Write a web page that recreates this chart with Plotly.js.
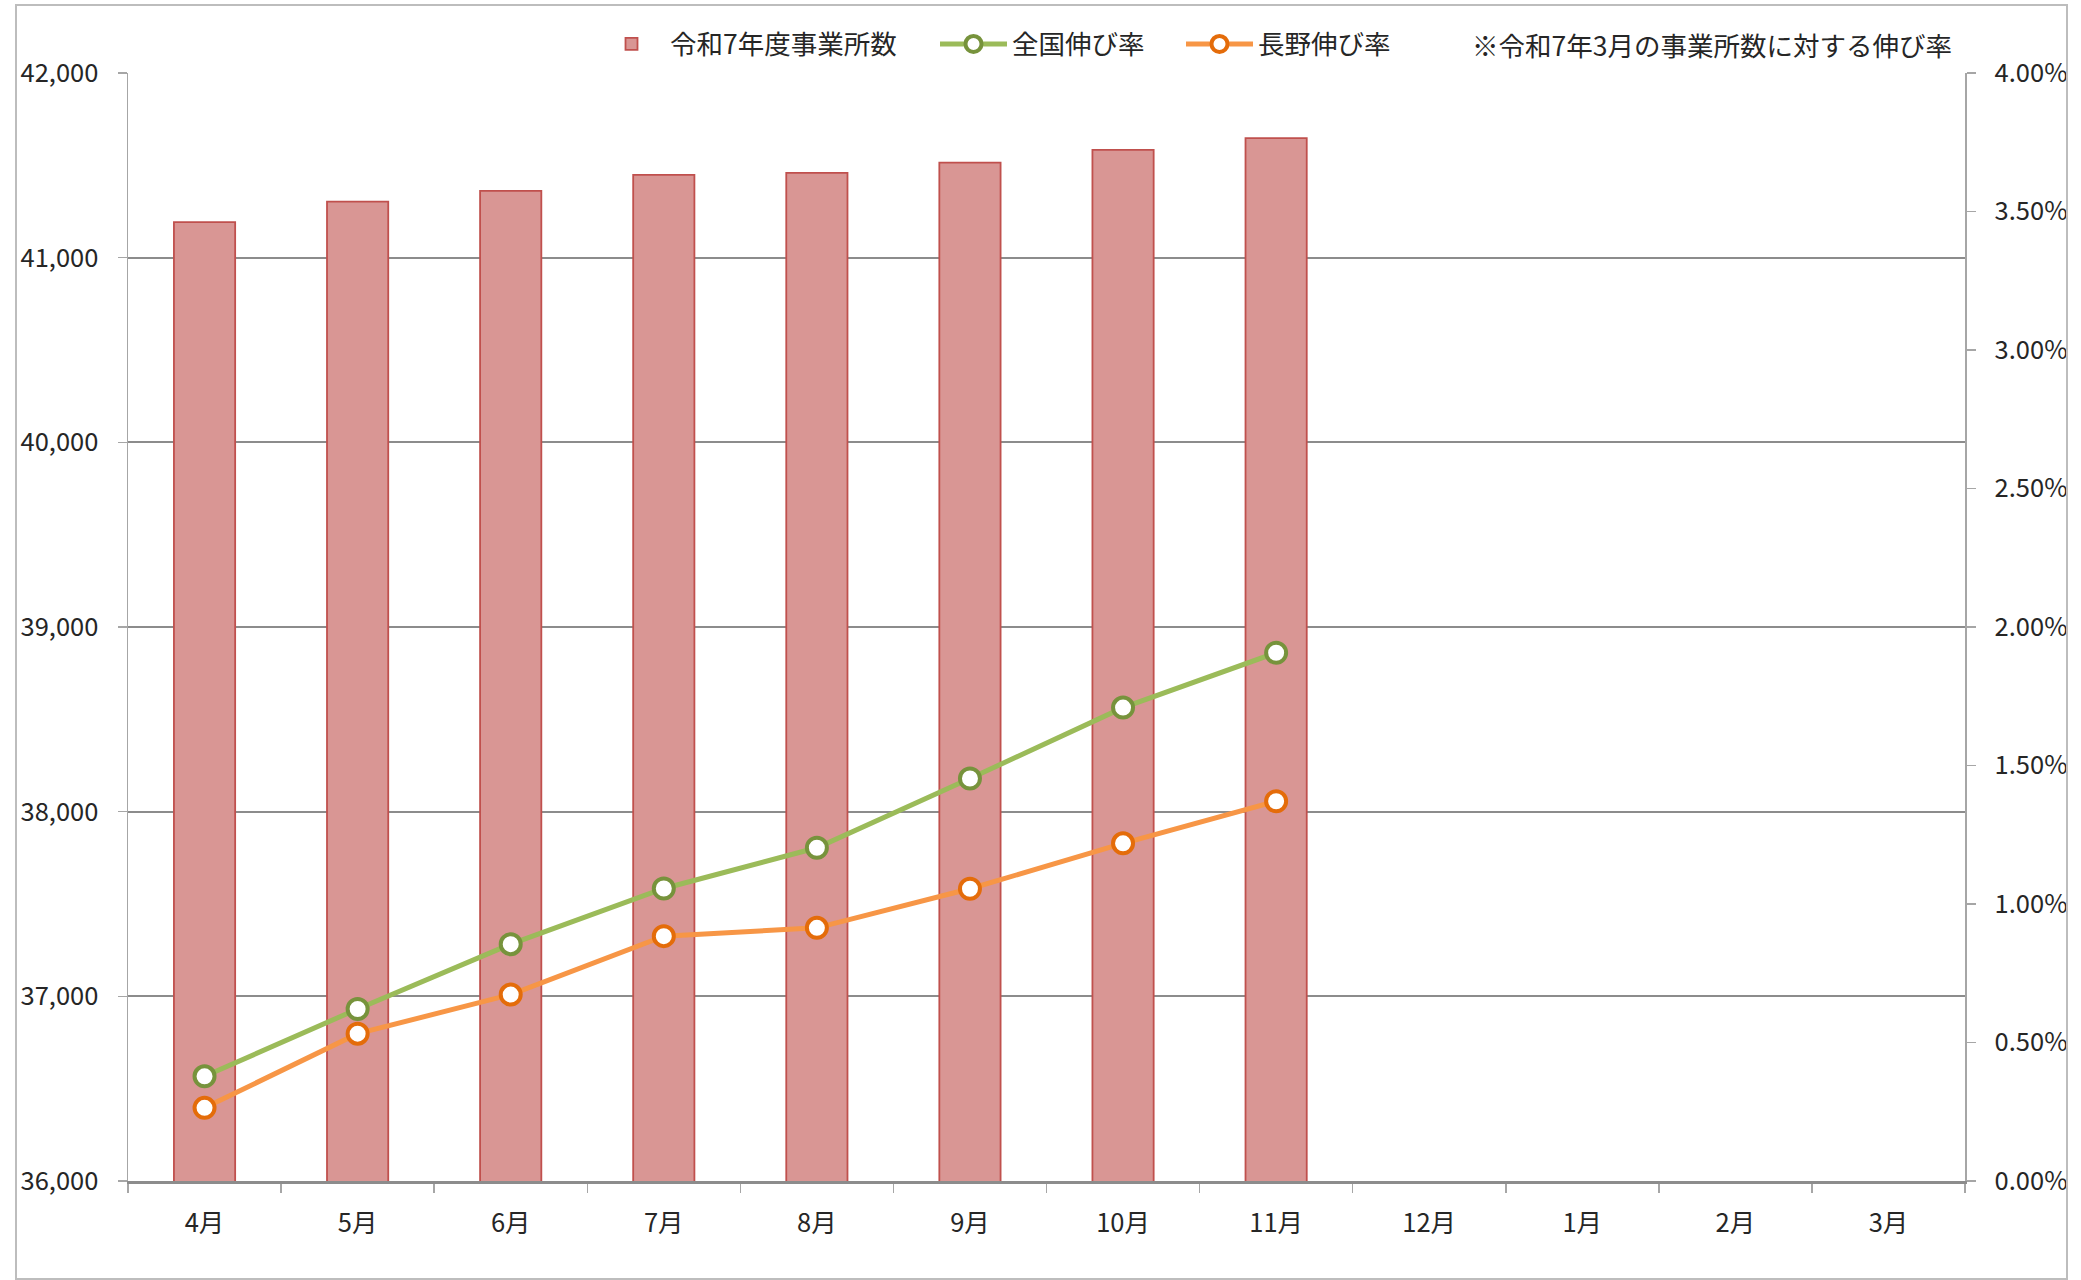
<!DOCTYPE html>
<html><head><meta charset="utf-8">
<script src="https://cdn.plot.ly/plotly-3.0.1.min.js"></script>
<style>
html,body{margin:0;padding:0;background:#fff;}
#wrap{position:relative;width:2081px;height:1280px;}
#chart{width:2081px;height:1280px;}
#frame{position:absolute;left:15px;top:4px;width:2053px;height:1276px;border:2px solid #bdbdbd;box-sizing:border-box;pointer-events:none;}
</style>
</head><body>
<div id="wrap"><div id="chart"></div><div id="frame"></div></div>
<script>
const months = ['4月','5月','6月','7月','8月','9月','10月','11月','12月','1月','2月','3月'];
const officeCounts = [41192, 41304, 41362, 41448, 41459, 41515, 41584, 41647, null, null, null, null];
const nationalGrowth = [0.378, 0.621, 0.855, 1.056, 1.203, 1.453, 1.709, 1.907]; // %
const naganoGrowth = [0.264, 0.532, 0.673, 0.884, 0.914, 1.055, 1.219, 1.371]; // %
const seriesNames = ['令和7年度事業所数', '全国伸び率', '長野伸び率'];
const noteText = '※令和7年3月の事業所数に対する伸び率';

const FONT = '"Noto Sans CJK JP", "Noto Sans", sans-serif';
const GRID = '#8c8c8c';
const AXIS = '#a6a6a6';
const TXT = '#262626';

const traces = [
  {
    type: 'bar', name: seriesNames[0], x: months, y: officeCounts,
    marker: {color: '#d99694', line: {color: '#c0504d', width: 1.8}},
    yaxis: 'y', legend: 'legend'
  },
  {
    type: 'scatter', mode: 'lines+markers', name: seriesNames[1],
    x: months.slice(0, nationalGrowth.length), y: nationalGrowth, yaxis: 'y2', legend: 'legend2',
    line: {color: '#9bbb59', width: 5},
    marker: {symbol: 'circle', size: 20, color: '#ffffff', line: {color: '#77933c', width: 4}}
  },
  {
    type: 'scatter', mode: 'lines+markers', name: seriesNames[2],
    x: months.slice(0, naganoGrowth.length), y: naganoGrowth, yaxis: 'y2', legend: 'legend3',
    line: {color: '#f79646', width: 5},
    marker: {symbol: 'circle', size: 20, color: '#ffffff', line: {color: '#e46c0a', width: 4}}
  }
];

const PL = 128, PW = 1837;
function legendAt(textLeftPx) {
  return {
    orientation: 'h', x: (textLeftPx - 78 - PL) / PW, xanchor: 'left', y: 1.026, yanchor: 'middle',
    font: {family: FONT, size: 26.5, color: TXT},
    bgcolor: 'rgba(0,0,0,0)', itemwidth: 67, borderwidth: 0
  };
}

const layout = {
  width: 2081, height: 1280,
  margin: {l: 128, r: 116, t: 73, b: 99, pad: 0},
  paper_bgcolor: '#ffffff', plot_bgcolor: '#ffffff',
  font: {family: FONT, size: 25, color: TXT},
  bargap: 0.6,
  showlegend: true,
  legend: legendAt(671),
  legend2: legendAt(1013),
  legend3: legendAt(1259),
  xaxis: {
    type: 'category', range: [-0.5, 11.5], autorange: false,
    showgrid: false, zeroline: false,
    showline: true, linecolor: GRID, linewidth: 2.5,
    ticks: 'outside', tickson: 'boundaries', ticklen: 9, tickcolor: AXIS, tickwidth: 1.5,
    ticklabelstandoff: 18,
    tickfont: {family: FONT, size: 25.5, color: TXT}
  },
  yaxis: {
    range: [36000, 42000], dtick: 1000, tickformat: ',d',
    showgrid: true, gridcolor: GRID, gridwidth: 2, zeroline: false,
    showline: true, linecolor: AXIS, linewidth: 1.5,
    ticks: 'outside', ticklen: 9, tickcolor: AXIS, tickwidth: 1.5,
    ticklabelstandoff: 14,
    tickfont: {family: FONT, size: 25.5, color: TXT}
  },
  yaxis2: {
    overlaying: 'y', side: 'right', range: [0, 4], dtick: 0.5,
    tickformat: '.2f', ticksuffix: '%',
    showgrid: false, zeroline: false,
    showline: true, linecolor: AXIS, linewidth: 1.5,
    ticks: 'outside', ticklen: 9, tickcolor: AXIS, tickwidth: 1.5,
    ticklabelstandoff: 14,
    tickfont: {family: FONT, size: 25.5, color: TXT}
  },
  annotations: [{
    text: noteText, xref: 'paper', yref: 'paper', x: (1470 - PL) / PW, y: 1.026,
    xanchor: 'left', yanchor: 'middle', showarrow: false,
    font: {family: FONT, size: 26.5, color: TXT}
  }]
};

Plotly.newPlot('chart', traces, layout, {staticPlot: true, displayModeBar: false});
</script>
</body></html>
